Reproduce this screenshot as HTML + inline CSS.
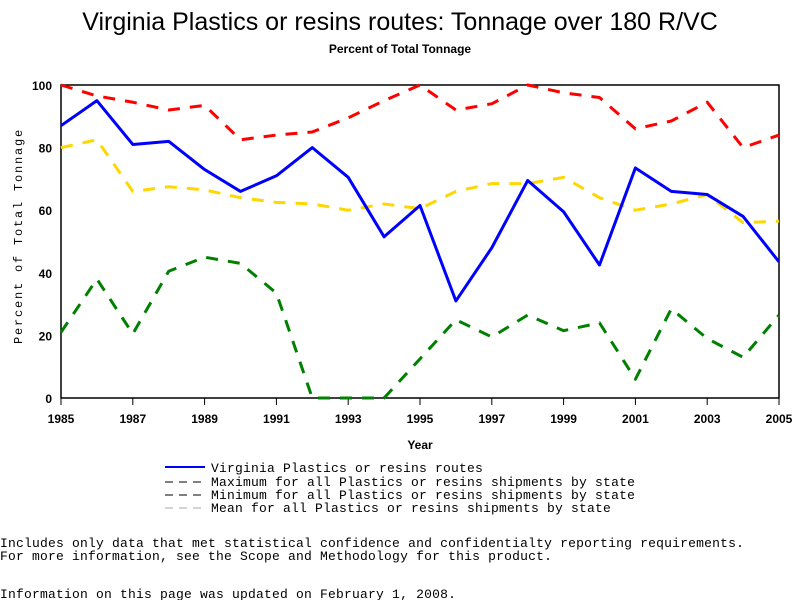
<!DOCTYPE html>
<html><head><meta charset="utf-8"><style>
body{margin:0;background:#fff;width:800px;height:600px;overflow:hidden}
svg text{font-family:"Liberation Sans",sans-serif}
.mono{font-family:"Liberation Mono",monospace;font-size:13px;letter-spacing:0.2px}
</style></head><body>
<svg id="chart" width="800" height="600">
<text x="400" y="30" text-anchor="middle" font-size="25">Virginia Plastics or resins routes: Tonnage over 180 R/VC</text>
<text x="400" y="53" text-anchor="middle" font-size="12" font-weight="bold">Percent of Total Tonnage</text>
<rect x="61" y="85" width="718" height="313" fill="none" stroke="#000" stroke-width="1.5"/>
<g id="axes"></g>
<g id="series"></g>
<text x="420" y="449" text-anchor="middle" font-size="12" font-weight="bold">Year</text>
<text transform="translate(22,236) rotate(-90)" text-anchor="middle" style="font-family:'Liberation Mono',monospace;font-size:12px;letter-spacing:1.8px">Percent of Total Tonnage</text>
<g>
<line x1="165" y1="467" x2="205" y2="467" stroke="#00f" stroke-width="2"/>
<text x="211" y="472" class="mono">Virginia Plastics or resins routes</text>
<line x1="165" y1="482" x2="205" y2="482" stroke="#000" stroke-dasharray="8,6"/>
<text x="211" y="486" class="mono">Maximum for all Plastics or resins shipments by state</text>
<line x1="165" y1="495" x2="205" y2="495" stroke="#000" stroke-dasharray="8,6"/>
<text x="211" y="499" class="mono">Minimum for all Plastics or resins shipments by state</text>
<line x1="165" y1="508" x2="205" y2="508" stroke="#aaa" stroke-dasharray="8,6"/>
<text x="211" y="512" class="mono">Mean for all Plastics or resins shipments by state</text>
</g>
<text x="0" y="547" class="mono">Includes only data that met statistical confidence and confidentialty reporting requirements.</text>
<text x="0" y="560" class="mono">For more information, see the Scope and Methodology for this product.</text>
<text x="0" y="598" class="mono">Information on this page was updated on February 1, 2008.</text>
</svg>
<script>
const years=[1985,1986,1987,1988,1989,1990,1991,1992,1993,1994,1995,1996,1997,1998,1999,2000,2001,2002,2003,2004,2005];
const virginia=[87,95,81,82,73,66,71,80,70.5,51.5,61.5,31,48,69.5,59.5,42.5,73.5,66,65,58,43.5];
const maximum=[100,96.5,94.5,92,93.5,82.5,84,85,89.5,95,100,92,94,100,97.5,96,86,88.5,94.5,80,84];
const mean=[80,82.5,66,67.5,66.5,64,62.5,62,60,62,60.5,66,68.5,68.5,70.5,64,60,62,65,56,56.5];
const minimum=[21,38,20.5,40.5,45,43,33.5,0,0,0,12.5,25,19.5,26.5,21.5,24,6,28.5,19,13,26.5];
const xTicks=[1985,1987,1989,1991,1993,1995,1997,1999,2001,2003,2005];
const yTicks=[0,20,40,60,80,100];
const NS="http://www.w3.org/2000/svg";
const X=y=>61+(y-1985)*(718/20);
const Y=v=>398-v*3.13;
const axes=document.getElementById('axes'),ser=document.getElementById('series');
function mk(t,a,p){const e=document.createElementNS(NS,t);for(const k in a)e.setAttribute(k,a[k]);p.appendChild(e);return e;}
xTicks.forEach(t=>{
 const l=mk('line',{x1:X(t),x2:X(t),y1:398,y2:405,stroke:'#000'},axes);
 
 
 const tx=mk('text',{x:X(t),y:423,'text-anchor':'middle','font-size':12,'font-weight':'bold'},axes);tx.textContent=t;
 
 
});
yTicks.forEach(t=>{
 const tx=mk('text',{x:52,y:Y(t)+5,'text-anchor':'end','font-size':12,'font-weight':'bold'},axes);tx.textContent=t;
 
 
});
function line(d,c,w,dash,name){
 const p=mk('polyline',{points:d.map((v,i)=>X(years[i])+','+Y(v)).join(' '),fill:'none',stroke:c,'stroke-width':w,'stroke-dasharray':dash,'stroke-linejoin':'round'},ser);
 
 
}
line(maximum,'#f00',3,'12,10','line-maximum');
line(mean,'#ffd700',3,'12,10','line-mean');
line(minimum,'#008000',3,'12,10','line-minimum');
line(virginia,'#00f',3,'none','line-virginia');
</script>
</body></html>
